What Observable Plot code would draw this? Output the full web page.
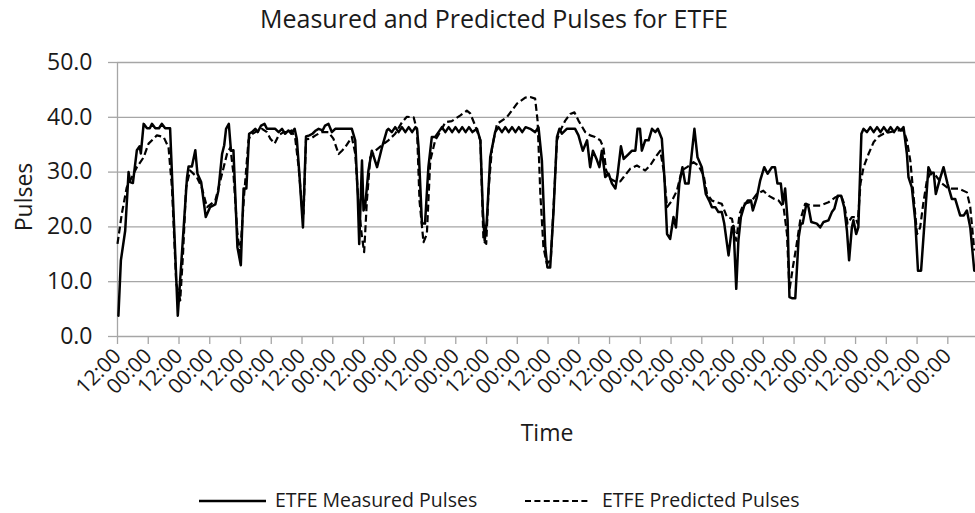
<!DOCTYPE html>
<html>
<head>
<meta charset="utf-8">
<script src="https://cdn.jsdelivr.net/npm/d3@7"></script>
<script src="https://cdn.jsdelivr.net/npm/@observablehq/plot@0.6"></script>
<style>
  body { margin: 0; background: #fff; font-family: "Open Sans", sans-serif; color: #1a1a1a; }
  #wrap { position: relative; width: 975px; height: 513px; overflow: hidden; background: #fff; }
  #wrap > svg.chart { position: absolute; left: 0; top: 0; }
  .lbl { position: absolute; white-space: nowrap; line-height: 1; }
  #title { left: 494px; top: 6px; font-size: 25px; transform: translateX(-50%); }
  #ytitle { left: 23px; top: 197px; font-size: 23px; transform: translate(-50%, -50%) rotate(-90deg); }
  #xtitle { left: 547px; top: 421px; font-size: 23px; transform: translateX(-50%); }
  .legtext { font-size: 19.5px; top: 490px; }
  #wrap > svg#legsvg { position: absolute; left: 0; top: 490px; }
</style>
</head>
<body>
<div id="wrap">
  <div id="title" class="lbl">Measured and Predicted Pulses for ETFE</div>
  <div id="ytitle" class="lbl">Pulses</div>
  <div id="xtitle" class="lbl">Time</div>
  <svg id="legsvg" width="975" height="23">
    <line x1="199" x2="266" y1="11" y2="11" stroke="#000" stroke-width="2.5"></line>
    <line x1="525" x2="590" y1="11" y2="11" stroke="#000" stroke-width="2.2" stroke-dasharray="6,3.4"></line>
  </svg>
  <div class="lbl legtext" style="left:275px">ETFE Measured Pulses</div>
  <div class="lbl legtext" style="left:602px">ETFE Predicted Pulses</div>
</div>
<script>
// Time is measured in half-day steps from the first 12:00 tick.
const xTickPos = [0,1,2,3,4,5,6,7,8,9,10,11,12,13,14,15,16,17,18,19,20,21,22,23,24,25,26,27];
const xTickLabels = ["12:00","00:00","12:00","00:00","12:00","00:00","12:00","00:00","12:00","00:00",
  "12:00","00:00","12:00","00:00","12:00","00:00","12:00","00:00","12:00","00:00",
  "12:00","00:00","12:00","00:00","12:00","00:00","12:00","00:00"];
const yTicks = [0, 10, 20, 30, 40, 50];

const measuredT = [0.03,0.11,0.25,0.36,0.41,0.5,0.63,0.72,0.76,0.85,0.96,1.05,1.12,1.23,1.35,1.44,1.55,1.71,
  1.96,2.26,2.31,2.42,2.53,2.6,2.72,2.87,3.01,3.18,3.28,3.4,3.47,3.53,3.62,3.69,3.77,3.9,4.01,4.1,4.19,
  4.28,4.37,4.48,4.56,4.67,4.78,4.86,5.13,5.24,5.35,5.45,5.56,5.65,5.76,5.83,5.91,6.03,6.13,6.24,6.34,6.45,
  6.54,6.67,6.75,6.86,6.97,7.08,7.35,7.62,7.73,7.81,7.86,7.95,8.0,8.05,8.16,8.27,8.44,8.6,8.76,8.81,
  8.92,9.03,9.14,9.25,9.36,9.47,9.58,9.69,9.74,9.79,9.9,10.0,10.11,10.22,10.33,10.44,
  10.55,10.66,10.77,10.88,10.99,11.1,11.21,11.32,11.43,11.54,11.69,11.8,11.88,11.94,12.01,12.12,12.28,
  12.39,12.5,12.61,12.72,12.83,12.94,13.05,13.16,13.27,13.42,13.58,13.69,13.8,13.91,13.98,14.07,14.18,
  14.29,14.37,14.45,14.61,14.88,14.99,15.13,15.27,15.37,15.46,15.57,15.67,15.75,15.86,15.97,16.08,16.19,
  16.26,16.37,16.46,16.62,16.73,16.84,16.91,16.99,17.05,17.16,17.27,17.38,17.49,17.57,17.7,17.79,17.87,
  17.97,18.08,18.16,18.27,18.37,18.46,18.57,18.66,18.76,18.86,19.0,19.13,19.24,19.33,19.44,19.54,19.65,
  19.73,19.87,19.98,20.03,20.12,20.19,20.27,20.38,20.49,20.6,20.66,20.79,20.9,21.03,21.14,21.28,21.38,
  21.46,21.57,21.64,21.71,21.79,21.85,21.93,22.04,22.15,22.22,22.28,22.4,22.47,22.56,22.74,22.85,22.96,
  23.12,23.23,23.31,23.42,23.53,23.63,23.72,23.79,23.88,23.93,24.02,24.09,24.19,24.26,24.37,24.48,24.59,
  24.7,24.81,24.92,25.03,25.14,25.25,25.36,25.47,25.56,25.67,25.72,25.83,25.94,26.03,26.13,26.27,26.37,
  26.45,26.54,26.61,26.73,26.86,26.99,27.13,27.24,27.4,27.52,27.62,27.73,27.86];
const measuredPulses = [3.8,13.9,19.3,30,28.2,28,34,34.7,33.4,38.8,38,38,38.8,38,38,38.8,38,38,
  3.8,29,31,31,34,29.7,28.2,21.8,23.6,24.1,26.6,33.3,34.9,37.9,38.8,33.9,34,16.3,13,27,27,
  37,37.3,37.9,37.3,38.5,38.8,37.9,37.9,37.3,37.9,37,37.6,37,37.9,36.1,30,19.9,36.5,36.7,37,37.6,
  37.9,37.6,38.5,38.8,37.3,37.9,37.9,37.9,35.8,26,16.9,32.1,23,23.6,30.3,33.9,30.9,34.5,37.6,37.9,
  37.3,38.2,37.3,38.2,37.3,38.2,37.3,38.2,37.9,34.5,20.6,20.6,30.9,36.4,36.4,37.3,
  38.2,37.3,38.2,37.3,38.2,37.3,38.2,37.3,38.2,37.3,37.9,35.8,23,17.5,21.2,32.7,37.3,
  38.2,37.3,38.2,37.3,38.2,37.3,38.2,37.3,38.2,37.9,37.3,38.2,32.1,16.3,12.6,12.6,23,
  36.4,37.9,37,37.9,37.9,36.7,33.9,35.8,30.9,33.9,32.5,30.9,33.9,29.1,29.7,27.9,27,
  29.5,34.7,32.4,33.3,33.9,33.9,37.9,37.9,33.9,35.8,35.8,37.9,37.3,37.9,36.1,28.5,18.7,
  17.8,21.8,19.9,27.9,30.9,27.9,27.9,32.7,37.9,32.7,30.9,26,24.8,23.6,23.6,22.7,22.7,
  20.6,14.8,19.9,20.2,8.7,17.5,21.8,23.9,24.8,24.8,23,25.4,28.5,30.9,29.7,30.9,30.9,
  27.9,27.9,24.2,27,21.2,7.2,7.0,7.0,18.1,20.6,20.6,24.2,23.6,20.9,20.6,19.9,20.9,
  21.2,22.7,23.3,25.7,25.7,23.6,19.3,13.9,19.9,21.2,18.7,19.9,37,37.9,37.3,38.2,37.3,
  38.2,37.3,38.2,37.3,38.2,37.3,38.2,37.6,38.2,33.3,29.1,27.2,21.2,12,12,23,30.9,
  29.9,29.9,26,28.5,30.9,27.9,25.1,25.1,22.1,22.1,23,19.9,12];

const predictedT = [0,0.14,0.3,0.47,0.63,0.85,1.01,1.28,1.5,1.66,1.77,1.91,2.04,2.13,2.23,2.36,2.58,2.74,
  2.91,3.18,3.4,3.56,3.67,3.77,3.9,3.99,4.12,4.26,4.32,4.48,4.7,4.86,4.97,5.11,5.24,5.4,5.56,5.66,5.78,
  5.89,6.0,6.05,6.13,6.28,6.44,6.63,6.86,7.02,7.19,7.3,7.4,7.62,7.73,7.84,7.95,8.02,8.11,8.22,8.38,8.6,
  8.81,9.03,9.25,9.41,9.63,9.74,9.82,9.95,10.06,10.17,10.33,10.49,10.66,10.87,11.14,11.36,11.47,11.63,
  11.8,11.9,11.99,12.07,12.18,12.34,12.66,12.99,13.26,13.42,13.58,13.66,13.75,13.85,13.96,14.09,14.2,
  14.29,14.4,14.56,14.72,14.86,14.99,15.21,15.37,15.53,15.7,15.8,15.89,16.02,16.19,16.35,16.46,16.67,
  16.89,17.16,17.32,17.49,17.65,17.76,17.87,18.03,18.19,18.35,18.52,18.73,18.89,19.06,19.17,19.33,19.49,
  19.65,19.82,19.98,20.12,20.23,20.36,20.6,20.79,21.0,21.17,21.36,21.5,21.66,21.77,21.85,21.96,22.07,
  22.2,22.36,22.58,22.85,23.12,23.34,23.53,23.63,23.74,23.88,23.99,24.07,24.16,24.26,24.42,24.59,24.75,
  24.91,25.35,25.56,25.67,25.78,25.88,26.0,26.1,26.2,26.32,26.43,26.6,26.81,27.02,27.35,27.62,27.73,27.86];
const predictedPulses = [16.9,22.4,27.2,29.1,30.9,32.7,35.2,36.7,36.4,34.5,27.2,9.7,6.6,15,27.2,30.3,29.1,27.2,
  23.6,24.8,29.7,33.3,34.5,29.7,18.7,15.1,26,35.8,36.7,37.3,37.9,37.3,36.1,35.2,36.7,37.3,37.3,37.6,36.1,
  30.9,23.6,22.4,36,36.1,36.7,37.3,37.3,36.1,33.3,33.9,34.5,36.4,33.4,24.2,18.1,15.4,24.8,32.7,33.9,34.9,
  35.8,37,39.1,40.1,40,37.6,24.8,17.2,18.7,32.1,35.8,37.3,39.1,39.3,40.3,41.2,40.7,38.5,
  35.8,17.5,16.9,27.2,34.5,38.8,40,42.5,43.6,43.7,43.4,39.4,26,16.3,13.3,14,26,
  35.8,37.6,39.4,40.6,40.9,39.4,37.3,36.7,36.4,35.8,34.5,30.3,28.8,28.3,28.3,29.1,30.6,
  31.2,30.3,31.2,32.7,33.9,30.3,23.6,24.8,26.6,30.3,30.9,31.8,31.2,29.4,26,24.8,24.5,
  24.2,21.8,21.5,17.5,22.4,24.2,24.6,26,26.6,25.7,25.1,24.8,23.6,18.7,8.4,12.6,16.3,
  21.2,24.2,23.9,23.9,24.5,25.4,25.7,24.2,20.6,21.8,21.8,20.6,27.9,30.9,33.3,35.5,36.5,
  37,37.6,37.6,35.8,32.1,26,18.7,19.9,24.2,28.5,29.7,29.4,27.9,27,27,26.3,23.6,15.7];

const measured = measuredT.map((t, i) => ({t, v: measuredPulses[i]}));
const predicted = predictedT.map((t, i) => ({t, v: predictedPulses[i]}));

const gridColor = "#a6a6a6";
const chart = Plot.plot({
  width: 975,
  height: 513,
  marginLeft: 117,
  marginRight: 0,
  marginTop: 62,
  marginBottom: 177,
  className: "chart",
  style: {fontFamily: "'Open Sans', sans-serif", background: "transparent", overflow: "visible"},
  x: {domain: [0, 27.9]},
  y: {domain: [0, 50]},
  marks: [
    Plot.ruleY(yTicks, {stroke: gridColor, strokeWidth: 1.3}),
    Plot.ruleX([0], {stroke: gridColor, strokeWidth: 1.3}),
    Plot.axisY({ticks: yTicks, tickFormat: d => d.toFixed(1), tickSize: 9, tickPadding: 16,
      fontSize: 23, stroke: gridColor, strokeWidth: 1.3, fill: "#1a1a1a", label: null}),
    Plot.axisX({ticks: xTickPos, tickFormat: d => xTickLabels[d], tickRotate: -45, tickSize: 8, tickPadding: 8,
      fontSize: 21, stroke: gridColor, strokeWidth: 1.3, fill: "#1a1a1a", label: null}),
    Plot.line(predicted, {x: "t", y: "v", stroke: "#000", strokeWidth: 2.2, strokeDasharray: "7,3.5", strokeLinecap: "butt"}),
    Plot.line(measured, {x: "t", y: "v", stroke: "#000", strokeWidth: 2.5})
  ]
});
chart.classList.add("chart");
document.getElementById("wrap").appendChild(chart);
</script>
</body>
</html>
